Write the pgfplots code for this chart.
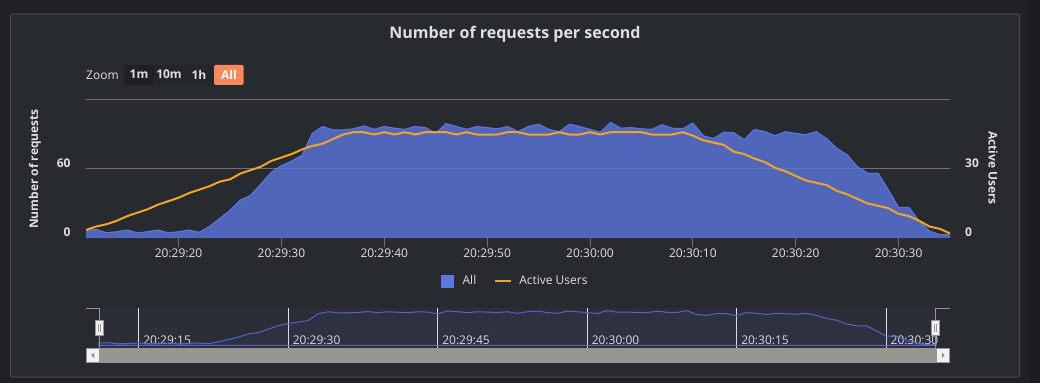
\documentclass[border=0pt]{standalone}
\usepackage{fontspec}
\setmainfont{Open Sans}
\usepackage{pgfplots}
\pgfplotsset{compat=1.18}
\usepackage{pgfplotstable}
\definecolor{outerbg}{RGB}{31,33,37}
\definecolor{outerdark}{RGB}{26,28,31}
\definecolor{panelbg}{RGB}{39,42,46}
\definecolor{panelborder}{RGB}{74,76,80}
\definecolor{txt}{RGB}{224,224,227}
\definecolor{gridc}{RGB}{112,112,115}
\definecolor{allc}{RGB}{92,119,226}
\definecolor{navline}{RGB}{82,102,200}
\definecolor{userc}{RGB}{240,165,40}
\definecolor{navmask}{RGB}{43,46,56}
\definecolor{scrollc}{RGB}{152,150,145}
\definecolor{btndark}{RGB}{30,32,36}
\definecolor{btnmid}{RGB}{35,38,42}
\definecolor{btnall}{RGB}{247,137,92}
\definecolor{outl}{RGB}{150,150,152}
\definecolor{handlec}{RGB}{242,242,242}

\pgfplotstableread{
s req users
11 7 3.5
12 7.5 5
13 4.5 6
14 5.5 7.5
15 7 9.5
16 4.5 11
17 5.5 12.5
18 7 14.5
19 4.5 16
20 5.5 17.5
21 7 19.5
22 5 21
23 10 22.5
24 17 24.5
25 24 25.5
26 33 28
27 37 29.5
28 47 31
29 57 33.5
30 63 35
31 67 36.5
32 72 38.5
33 91 40
34 97 41
35 94 43
36 94 45
37 95 46
38 97.5 46
39 94.5 45
40 97 46
41 95.5 45
42 94.5 46
43 97 45
44 96 46
45 91 46
46 99.5 46
47 97 45
48 94.5 46
49 97 45
50 96 45
51 95 45
52 97 46
53 92.5 46
54 97 45
55 99 45
56 94.5 45
57 92.5 46
58 99 45
59 97 45
60 94.5 46
61 92 45
62 100.5 46
63 95.5 46
64 96 46
65 95 46
66 94.5 45
67 98.5 45
68 95.5 45
69 95 46
70 100 44.5
71 89 42.5
72 86.5 41.5
73 92 40.5
74 91.5 37.5
75 85.5 36.5
76 94.5 34.5
77 92.5 33
78 89 30.5
79 92.5 29
80 91 27
81 89.8 25
82 92.5 24
83 86.5 23
84 78 20.5
85 72.4 19
86 62 17
87 56.5 15
88 56.5 14
89 42 13
90 26.7 10.5
91 26.7 9.5
92 15 7.5
93 6 5
94 3 4
95 3 2
}\data

\newcommand{\fs}[1]{\fontsize{#1}{#1}\selectfont}

\begin{document}
\begin{tikzpicture}
\useasboundingbox (0pt,0pt) rectangle (1040pt,383pt);
\fill[outerbg] (0pt,0pt) rectangle (1040pt,383pt);
\fill[outerdark] (1030pt,0pt) rectangle (1040pt,383pt);
\filldraw[fill=panelbg, draw=panelborder, line width=1pt, rounded corners=2pt] (10.5pt,6pt) rectangle (1019.5pt,369pt);

% title
\node[text=txt, font=\fs{16}\bfseries, anchor=center] at (515pt,349pt) {Number of requests per second};

% zoom buttons
\node[text=txt, font=\fs{12}, anchor=west, inner sep=0pt] at (86pt,307.5pt) {Zoom};
\fill[btndark] (124pt,298pt) rectangle (154pt,318pt);
\fill[btnmid] (154pt,298pt) rectangle (184pt,318pt);
\fill[btnmid] (184pt,298pt) rectangle (213.5pt,318pt);
\fill[btnall, rounded corners=2pt] (214pt,298pt) rectangle (243.7pt,318pt);
\node[text=txt, font=\fs{12}\bfseries, inner sep=0pt] at (139pt,308.5pt) {1m};
\node[text=txt, font=\fs{12}\bfseries, inner sep=0pt] at (169pt,308.5pt) {10m};
\node[text=txt, font=\fs{12}\bfseries, inner sep=0pt] at (199pt,308.5pt) {1h};
\node[text=white, font=\fs{12}\bfseries, inner sep=0pt] at (229pt,308.5pt) {All};

% axis titles
\node[text=txt, font=\fs{12}\bfseries, rotate=90, inner sep=0pt] at (35pt,214pt) {Number of requests};
\node[text=txt, font=\fs{12}\bfseries, rotate=-90, inner sep=0pt] at (993pt,215pt) {Active Users};

% main axis: requests
\begin{axis}[
  at={(86pt,145pt)}, anchor=south west,
  scale only axis, width=864pt, height=138pt,
  xmin=11, xmax=95, ymin=0, ymax=120,
  axis line style={draw=none},
  xtick pos=bottom, ytick pos=left,
  xtick={20,30,...,90},
  xticklabels={20:29:20,20:29:30,20:29:40,20:29:50,20:30:00,20:30:10,20:30:20,20:30:30},
  tick align=outside, major tick length=9pt,
  x tick style={draw=gridc, line width=1pt},
  y tick style={draw=none},
  ytick={60,120}, yticklabels={60,{}},
  extra y ticks={0}, extra y tick labels={0},
  extra y tick style={grid=none},
  ymajorgrids, grid style={gridc, line width=1pt},
  xticklabel style={anchor=center, inner sep=0pt, yshift=-6.3pt, font=\fs{12}, text=txt},
  yticklabel style={anchor=east, inner sep=0pt, xshift=-6.3pt, yshift=5.7pt, font=\fs{12}\bfseries, text=txt},
]
\addplot[draw=none, fill=allc, fill opacity=0.78, forget plot] table[x=s,y=req]{\data} \closedcycle;
\addplot[allc, line width=1pt, line join=round, forget plot] table[x=s,y=req]{\data};
\end{axis}

% secondary axis: active users
\begin{axis}[
  at={(86pt,145pt)}, anchor=south west,
  scale only axis, width=864pt, height=138pt,
  xmin=11, xmax=95, ymin=0, ymax=60,
  axis line style={draw=none},
  xtick=\empty,
  ytick pos=right, ytick={0,30}, yticklabels={0,30},
  tick align=outside, major tick length=9pt,
  y tick style={draw=none},
  yticklabel style={anchor=west, inner sep=0pt, xshift=6pt, yshift=5.7pt, font=\fs{12}\bfseries, text=txt},
  legend style={at={(axis description cs:0.497,-0.3116)}, anchor=center, draw=none, fill=none,
    text=txt, font=\fs{12}, inner sep=0pt, legend columns=2,
    /tikz/every even column/.append style={column sep=16pt}},
  legend cell align=left,
]
\addlegendimage{legend image code/.code={\fill[allc] (0pt,-6pt) rectangle (12pt,6pt); \path (19pt,0pt);}}
\addlegendentry{All}
\addplot[userc, line width=2pt, line join=round,
  legend image code/.code={\draw[userc, line width=2pt] (0pt,0pt) -- (16pt,0pt); \path (21pt,0pt);}] table[x=s,y=users]{\data};
\addlegendentry{Active Users}
\end{axis}

% navigator
\fill[navmask] (99.3pt,35pt) rectangle (935.3pt,75pt);
\begin{axis}[
  at={(86pt,35pt)}, anchor=south west,
  scale only axis, width=864pt, height=40pt,
  xmin=9.7, xmax=96.4, ymin=-7.5, ymax=107.8,
  axis line style={draw=none},
  xtick={15,30,45,60,75,90},
  xticklabels={20:29:15,20:29:30,20:29:45,20:30:00,20:30:15,20:30:30},
  xtick pos=bottom, major tick length=0pt,
  xmajorgrids, grid style={txt, line width=1pt},
  ytick=\empty,
  xticklabel style={anchor=west, inner sep=0pt, xshift=4.3pt, yshift=8pt, font=\fs{12}, text=txt},
]
\addplot[navline, line width=1pt, fill=navline, fill opacity=0.06] table[x=s,y=req]{\data} \closedcycle;
\end{axis}

% scrollbar
\fill[scrollc] (86pt,20.5pt) rectangle (950pt,35pt);
\filldraw[fill=handlec, draw=outl, line width=0.6pt] (86.3pt,20.8pt) rectangle (99pt,34.5pt);
\fill[gray] (91.3pt,27.6pt) -- (94pt,30pt) -- (94pt,25.2pt) -- cycle;
\filldraw[fill=handlec, draw=outl, line width=0.6pt] (936.5pt,20.8pt) rectangle (949.7pt,34.5pt);
\fill[gray] (944.7pt,27.6pt) -- (942pt,30pt) -- (942pt,25.2pt) -- cycle;

% navigator outline and handles
\draw[outl, line width=1pt] (86pt,75pt) -- (99.3pt,75pt) -- (99.3pt,35pt);
\draw[outl, line width=1pt] (935.3pt,35pt) -- (935.3pt,75pt) -- (950pt,75pt);
\filldraw[fill=handlec, draw=outl, line width=0.8pt] (95.7pt,47.7pt) rectangle (103.1pt,62.3pt);
\draw[outl, line width=0.8pt] (98.4pt,51pt) -- (98.4pt,59pt) (100.4pt,51pt) -- (100.4pt,59pt);
\filldraw[fill=handlec, draw=outl, line width=0.8pt] (931.6pt,47.7pt) rectangle (939pt,62.3pt);
\draw[outl, line width=0.8pt] (934.3pt,51pt) -- (934.3pt,59pt) (936.3pt,51pt) -- (936.3pt,59pt);
\end{tikzpicture}
\end{document}
